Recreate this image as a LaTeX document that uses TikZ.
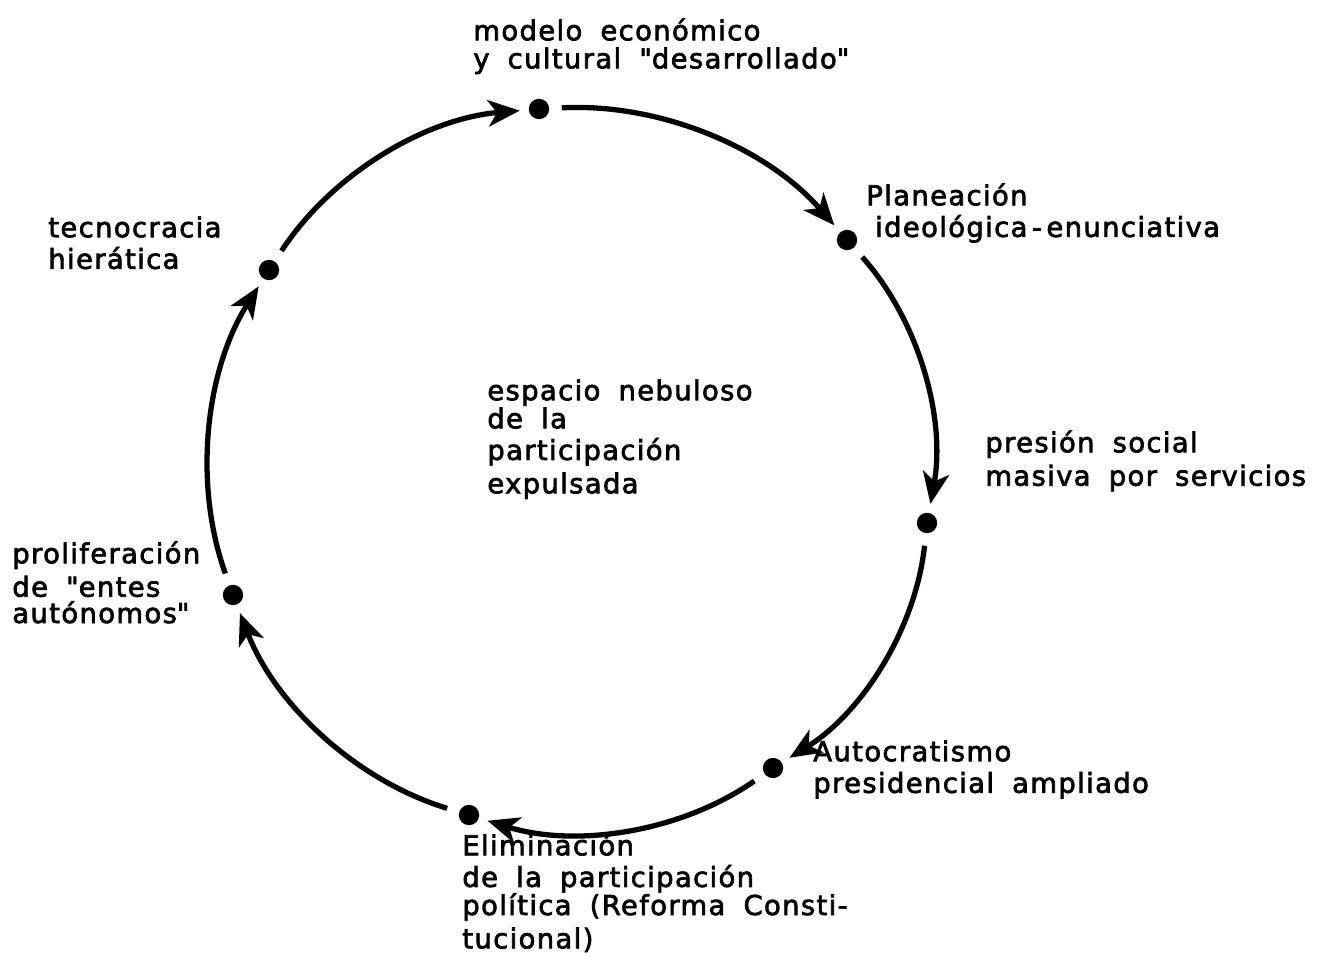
\documentclass[tikz,border=0pt]{standalone}
\usepackage{fontspec}
\setmainfont{DejaVu Sans}[LetterSpace=5,WordSpace=1.8,FakeBold=2.5]
\usepackage{tikz}
\usetikzlibrary{arrows.meta}

\tikzset{
  dot/.style={circle, fill=black, inner sep=0pt, minimum size=11.6pt},
  flow/.style={->, line width=3pt, shorten <=7pt, shorten >=5pt, bend left=26, looseness=0.9},
  lbl/.style={anchor=north west, inner sep=0pt, align=left, font=\fontsize{15.6}{18}\selectfont}
}

\begin{document}
\begin{tikzpicture}[>={Stealth[length=18pt, width=15pt, inset=5pt]}, x=0.02cm, y=0.02cm]
  \useasboundingbox (0,0) rectangle (1328,-963);

  % Stages on the cycle
  \node[dot] (model)   at (539,-109) {};
  \node[dot] (plan)    at (847,-240) {};
  \node[dot] (presion) at (927,-523) {};
  \node[dot] (autocr)  at (773,-768) {};
  \node[dot] (elim)    at (469,-815) {};
  \node[dot] (prolif)  at (233,-595) {};
  \node[dot] (tecno)   at (269,-270) {};

  % Arrows round the circle
  \draw[flow] (model) to (plan);
  \draw[flow] (plan) to (presion);
  \draw[flow] (presion) to (autocr);
  \draw[flow] (autocr) to (elim);
  \draw[flow] (elim) to (prolif);
  \draw[flow] (prolif) to (tecno);
  \draw[flow] (tecno) to (model);

  % Labels of the stages
  \node[lbl] (modeltxt) at (473,-18) {modelo económico\\[-2pt]y cultural \textquotedbl desarrollado\textquotedbl};
  \node[lbl] (plantxt) at (866,-183) {Planeación\\\hspace*{5pt}ideológica\,-\,enunciativa};
  \node[lbl] (presiontxt) at (985,-430) {presión social\\[1pt]masiva por servicios};
  \node[lbl] (autocrtxt) at (813,-740) {Autocratismo\\presidencial ampliado};
  \node[lbl] (elimtxt) at (462,-833) {Eliminación\\de la participación\\[-2pt]política (Reforma Consti-\\[1pt]tucional)};
  \node[lbl] (proliftxt) at (12,-541) {proliferación\\[1pt]de \textquotedbl entes\\[-3pt]autónomos\textquotedbl};
  \node[lbl] (tecnotxt) at (48,-216) {tecnocracia\\hierática};

  % Centre text
  \node[lbl] (centro) at (487,-379) {espacio nebuloso\\[-2pt]de la\\participación\\[1pt]expulsada};
\end{tikzpicture}
\end{document}
